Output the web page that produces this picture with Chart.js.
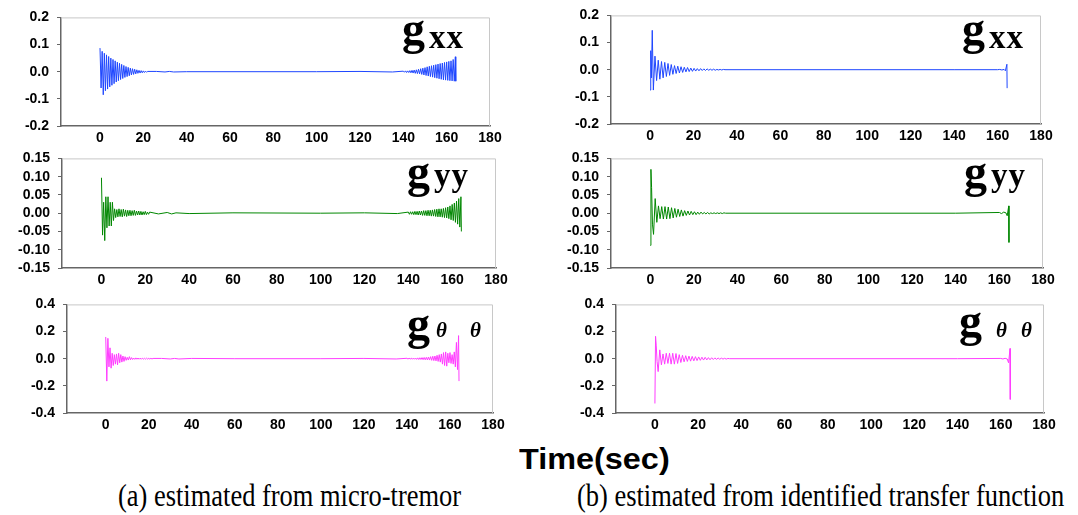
<!DOCTYPE html>
<html>
<head>
<meta charset="utf-8">
<script src="https://cdn.jsdelivr.net/npm/chart.js@4.4.1/dist/chart.umd.min.js"></script>
<style>
 body{margin:0;width:1078px;height:515px;overflow:hidden;background:#fff;position:relative;}
 canvas{position:absolute;}
 .lbl{position:absolute;line-height:1;white-space:nowrap;color:#000;}
</style>
</head>
<body>
<script>
// ---- tick labels ----
const xTicks = [0, 20, 40, 60, 80, 100, 120, 140, 160, 180];
const yTicksXX = [-0.2, -0.1, 0, 0.1, 0.2];
const yTicksYY = [-0.15, -0.1, -0.05, 0, 0.05, 0.1, 0.15];
const yTicksTT = [-0.4, -0.2, 0, 0.2, 0.4];

// ---- (a) estimated from micro-tremor : sample times (sec) ----
const headTimesA = [0,0.5,1,1.5,2,2.5,3,3.5,4,4.5,5,5.5,6,6.5,7,7.5,8,8.5,9,9.5,
 10,10.5,11,11.5,12,12.5,13,13.5,14,14.5,15,15.5,16,16.5,17,17.5,18,18.5,19,19.5,
 20,20.5,21,21.5,22];
const midTimesA = [26, 30, 32, 34, 40, 60, 100, 120, 135];
const tailTimesA = [140,140.5,141,141.5,142,142.5,143,143.5,144,144.5,
 145,145.5,146,146.5,147,147.5,148,148.5,149,149.5,
 150,150.5,151,151.5,152,152.5,153,153.5,154,154.5,
 155,155.5,156,156.5,157,157.5,158,158.5,159,159.5,
 160,160.5,161,161.5,162,162.5,163,163.5,164,164.2];

const gxxMicroHead = [0.087,-0.06,0.075,-0.085,0.068,-0.07,0.062,-0.064,0.056,-0.056,
 0.05,-0.05,0.045,-0.044,0.04,-0.038,0.035,-0.033,0.031,-0.029,
 0.027,-0.025,0.023,-0.021,0.019,-0.018,0.016,-0.015,0.013,-0.012,
 0.011,-0.01,0.009,-0.008,0.007,-0.006,0.005,-0.005,0.004,-0.004,
 0.003,-0.003,0.002,-0.002,0.001];
const gxxMicroMid = [0.001,-0.001,0.001,-0.001,0,0,0,0.001,-0.001];
const gxxMicroTail = [0.002,-0.002,0.003,-0.003,0.003,-0.003,0.004,-0.004,0.005,-0.005,
 0.006,-0.006,0.007,-0.007,0.009,-0.008,0.011,-0.01,0.013,-0.012,
 0.015,-0.014,0.018,-0.016,0.02,-0.018,0.022,-0.02,0.024,-0.022,
 0.026,-0.024,0.028,-0.026,0.03,-0.028,0.032,-0.03,0.034,-0.031,
 0.036,-0.032,0.038,-0.033,0.04,-0.034,0.045,-0.035,0.055,-0.035];

const gyyMicroHead = [0.097,-0.06,0.03,-0.075,0.045,-0.04,0.045,-0.035,0.03,-0.035,
 0.03,-0.02,0.012,-0.012,0.01,-0.01,0.012,-0.009,0.01,-0.01,
 0.011,-0.008,0.009,-0.009,0.008,-0.007,0.008,-0.007,0.007,-0.006,
 0.008,-0.006,0.006,-0.005,0.006,-0.005,0.005,-0.005,0.004,-0.004,
 0.005,-0.004,0.003,-0.003,0.003];
const gyyMicroMid = [-0.002,0.002,-0.002,0.001,-0.001,0.001,0,0.001,-0.001];
const gyyMicroTail = [0.003,-0.003,0.004,-0.003,0.004,-0.004,0.005,-0.004,0.005,-0.005,
 0.006,-0.005,0.006,-0.006,0.007,-0.006,0.007,-0.007,0.008,-0.007,
 0.008,-0.008,0.009,-0.008,0.01,-0.009,0.011,-0.01,0.012,-0.01,
 0.012,-0.011,0.013,-0.012,0.015,-0.013,0.017,-0.015,0.02,-0.018,
 0.024,-0.02,0.028,-0.025,0.033,-0.03,0.04,-0.038,0.045,-0.05];

const gttMicroHead = [0.16,-0.165,0.15,-0.06,0.08,-0.07,0.04,-0.05,0.03,-0.04,
 0.035,-0.045,0.04,-0.03,0.03,-0.025,0.02,-0.02,0.015,-0.012,
 0.01,-0.01,0.015,-0.008,0.008,-0.006,0.005,-0.005,0.006,-0.004,
 0.005,-0.004,0.004,-0.004,0.004,-0.003,0.003,-0.003,0.004,-0.003,
 0.003,-0.003,0.003,-0.002,0.002];
const gttMicroMid = [0.002,-0.002,0.002,-0.002,0.002,0,0,0.002,-0.002];
const gttMicroTail = [0.003,-0.003,0.004,-0.003,0.004,-0.004,0.005,-0.004,0.005,-0.005,
 0.006,-0.006,0.007,-0.006,0.008,-0.007,0.009,-0.008,0.01,-0.009,
 0.012,-0.01,0.015,-0.012,0.018,-0.014,0.02,-0.016,0.025,-0.02,
 0.03,-0.025,0.035,-0.04,0.045,-0.05,0.05,-0.055,0.04,-0.03,
 0.045,-0.035,0.03,-0.04,0.05,-0.06,0.12,-0.08,0.17,-0.165];

// ---- (b) estimated from identified transfer function ----
const headTimesB = [0,0.3,0.6,1,1.5,2.25,3,3.75,4.5,5.25,6,6.75,7.5,8.25,9,9.75,
 10.5,11.25,12,12.75,13.5,14.25,15,15.75,16.5,17.25,18,18.75,19.5,20.25,21,21.75,
 22.5,23.25,24,24.75,25.5,26.25,27,27.75,28.5,29.25,30,30.75,31.5,32.25,33,33.75,34.5];
const tailTimesB = [140, 160, 161, 162, 163, 163.6, 164.3, 164.4];

const gxxIdHead = [-0.075,0.07,-0.03,0.145,-0.075,0.05,-0.04,0.035,-0.035,0.03,
 -0.03,0.027,-0.025,0.023,-0.021,0.019,-0.017,0.015,-0.014,0.013,
 -0.012,0.011,-0.01,0.009,-0.008,0.008,-0.007,0.006,-0.006,0.005,
 -0.005,0.004,-0.004,0.004,-0.003,0.003,-0.003,0.003,-0.002,0.002,
 -0.002,0.002,-0.002,0.001,-0.001,0.001,-0.001,0.001,0];
const gxxIdTail = [0, 0, 0.001, -0.001, 0.001, -0.004, 0.02, -0.068];

const gyyIdHead = [-0.088,0.12,0.07,-0.03,-0.058,0.04,-0.025,0.02,-0.015,0.018,
 -0.016,0.018,-0.016,0.017,-0.015,0.015,-0.013,0.013,-0.011,0.011,
 -0.009,0.009,-0.008,0.007,-0.006,0.006,-0.005,0.005,-0.004,0.004,
 -0.004,0.003,-0.003,0.003,-0.002,0.002,-0.002,0.002,-0.002,0.001,
 -0.001,0.001,-0.001,0.001,-0.001,0.001,-0.001,0.001,0];
const gyyIdTail = [0, 0.002, -0.001, 0.003, 0.001, -0.007, 0.02, -0.08];

const gttIdHead = [-0.33,0.165,0.1,-0.02,-0.095,0.065,-0.045,0.035,-0.04,0.04,
 -0.035,0.04,-0.04,0.04,-0.04,0.038,-0.035,0.03,-0.028,0.025,
 -0.023,0.022,-0.02,0.019,-0.018,0.017,-0.016,0.015,-0.014,0.013,
 -0.012,0.011,-0.01,0.01,-0.009,0.008,-0.008,0.007,-0.006,0.006,
 -0.005,0.005,-0.004,0.004,-0.003,0.003,-0.003,0.002,0];
const gttIdTail = [0, 0.002, -0.002, 0.003, -0.002, -0.03, 0.075, -0.3];

const BLUE = "rgb(30,70,255)";
const GREEN = "rgb(0,135,0)";
const PINK = "rgb(255,60,255)";

function pts(times, values) {
 return times.map(function (t, i) {
  return { x: t, y: values[i] };
 });
}

// light grey top / right frame of each plot box
const framePlugin = {
 id: "frame",
 beforeDatasetsDraw: function (chart) {
  var a = chart.chartArea;
  var ctx = chart.ctx;
  ctx.save();
  ctx.strokeStyle = "#c8c8c8";
  ctx.lineWidth = 1;
  ctx.beginPath();
  ctx.moveTo(a.left, a.top + 0.5);
  ctx.lineTo(a.right - 0.5, a.top + 0.5);
  ctx.lineTo(a.right - 0.5, a.bottom);
  ctx.stroke();
  ctx.restore();
 },
};

const tickFont = { family: '"Liberation Sans", Arial, sans-serif', size: 14, weight: "bold" };

function makePanel(p) {
 var padL = 62, padT = 12, padR = 16, padB = 26;
 var c = document.createElement("canvas");
 c.width = p.R - p.L + padL + padR;
 c.height = p.B - p.T + padT + padB;
 c.style.left = p.L - padL + "px";
 c.style.top = p.T - padT + "px";
 document.body.appendChild(c);

 new Chart(c, {
  type: "line",
  data: {
   datasets: [
    {
     data: p.data,
     borderColor: p.color,
     borderWidth: 1,
     pointRadius: 0,
     tension: 0,
     fill: false,
    },
   ],
  },
  options: {
   responsive: false,
   animation: false,
   layout: { padding: { top: padT, right: padR, left: 0, bottom: 0 } },
   plugins: { legend: { display: false }, tooltip: { enabled: false } },
   scales: {
    x: {
     type: "linear",
     min: -18,
     max: 180,
     afterBuildTicks: function (s) {
      s.ticks = xTicks.map(function (v) { return { value: v }; });
     },
     afterFit: function (s) { s.height = padB; },
     grid: { drawOnChartArea: false, drawTicks: false },
     border: { color: "#666", width: 1.5 },
     ticks: { font: tickFont, color: "#000", padding: 4, maxRotation: 0, autoSkip: false },
    },
    y: {
     min: p.yTicks[0],
     max: p.yTicks[p.yTicks.length - 1],
     afterBuildTicks: function (s) {
      s.ticks = p.yTicks.map(function (v) { return { value: v }; });
     },
     afterFit: function (s) { s.width = padL; },
     grid: { drawOnChartArea: false, drawTicks: true, tickLength: 4, color: "#666" },
     border: { color: "#666", width: 1.5 },
     ticks: {
      font: tickFont,
      color: "#000",
      padding: 8,
      autoSkip: false,
      callback: function (v) { return v.toFixed(p.dec); },
     },
    },
   },
  },
  plugins: [framePlugin],
 });
}

function text(str, left, baseline, font, size, extra) {
 var d = document.createElement("div");
 d.className = "lbl";
 d.textContent = str;
 d.style.font = font;
 d.style.left = left + "px";
 d.style.top = baseline - 0.84 * size + "px";
 if (extra) Object.assign(d.style, extra);
 document.body.appendChild(d);
 return d;
}

var panels = [
 { L: 61, R: 490, T: 13, B: 126, yTicks: yTicksXX, dec: 1, color: BLUE,
   data: pts(headTimesA, gxxMicroHead).concat(pts(midTimesA, gxxMicroMid), pts(tailTimesA, gxxMicroTail)) },
 { L: 611, R: 1041, T: 11, B: 124, yTicks: yTicksXX, dec: 1, color: BLUE,
   data: pts(headTimesB, gxxIdHead).concat(pts(tailTimesB, gxxIdTail)) },
 { L: 62, R: 496, T: 154, B: 268, yTicks: yTicksYY, dec: 2, color: GREEN,
   data: pts(headTimesA, gyyMicroHead).concat(pts(midTimesA, gyyMicroMid), pts(tailTimesA, gyyMicroTail)) },
 { L: 611, R: 1043, T: 154, B: 268, yTicks: yTicksYY, dec: 2, color: GREEN,
   data: pts(headTimesB, gyyIdHead).concat(pts(tailTimesB, gyyIdTail)) },
 { L: 67, R: 493, T: 300, B: 413, yTicks: yTicksTT, dec: 1, color: PINK,
   data: pts(headTimesA, gttMicroHead).concat(pts(midTimesA, gttMicroMid), pts(tailTimesA, gttMicroTail)) },
 { L: 616, R: 1044, T: 300, B: 413, yTicks: yTicksTT, dec: 1, color: PINK,
   data: pts(headTimesB, gttIdHead).concat(pts(tailTimesB, gttIdTail)) },
];
panels.forEach(makePanel);

// panel names
var gFont = 'bold 46px "Liberation Serif", "Times New Roman", serif';
var subFont = 'bold 33px "Liberation Serif", "Times New Roman", serif';
var thFont = 'bold italic 21px "Liberation Serif", "Times New Roman", serif';
var subSp = { letterSpacing: "1px" };
text("g", 402, 41, gFont, 46);
text("xx", 429, 47, subFont, 33, subSp);
text("g", 962, 41, gFont, 46);
text("xx", 989, 47, subFont, 33, subSp);
text("g", 407, 184, gFont, 46);
text("yy", 434, 185, subFont, 33, subSp);
text("g", 964, 184, gFont, 46);
text("yy", 991, 185, subFont, 33, subSp);
text("g", 407, 336, gFont, 46);
text("\u03b8", 436, 336, thFont, 21);
text("\u03b8", 470, 336, thFont, 21);
text("g", 959, 333, gFont, 46);
text("\u03b8", 996, 336, thFont, 21);
text("\u03b8", 1021, 336, thFont, 21);

// axis title and captions
text("Time(sec)", 519, 467, 'bold 30px "Liberation Sans", Arial, sans-serif', 30, { transform: "scaleX(1.08)", transformOrigin: "left bottom" });
var capStyle = { transform: "scale(0.98,1.15)", transformOrigin: "left bottom" };
text("(a) estimated from micro-tremor", 118, 506, '27px "Liberation Serif", "Times New Roman", serif', 27, capStyle);
text("(b) estimated from identified transfer function", 577, 506, '27px "Liberation Serif", "Times New Roman", serif', 27, capStyle);
</script>
</body>
</html>
